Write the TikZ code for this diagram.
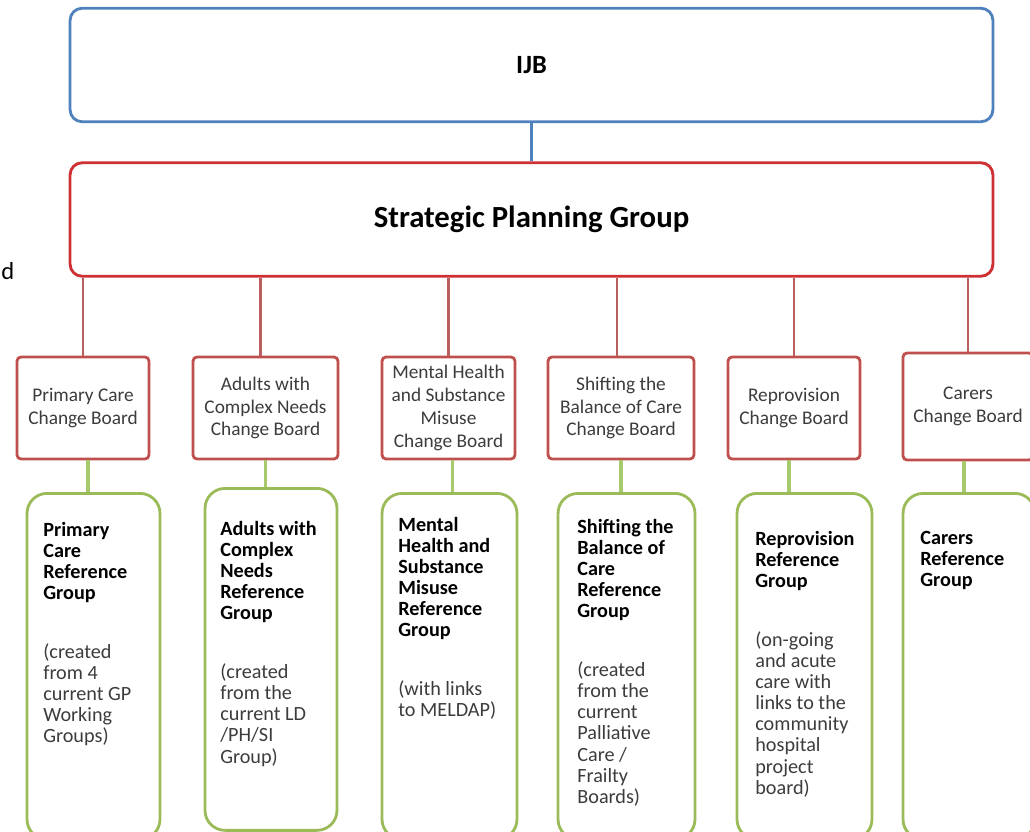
\documentclass[tikz,border=0pt]{standalone}
\usepackage{fontspec}
\setmainfont{Carlito}
\usetikzlibrary{positioning}
\definecolor{ijbblue}{RGB}{79,129,189}
\definecolor{spgred}{RGB}{206,48,52}
\definecolor{boardred}{RGB}{192,80,77}
\definecolor{linkred}{RGB}{185,95,95}
\definecolor{refgreen}{RGB}{155,187,89}
\definecolor{linkgreen}{RGB}{168,200,108}
\definecolor{textgrey}{RGB}{60,60,60}

\begin{document}
\begin{tikzpicture}[
  x=0.02cm, y=-0.02cm,
  topbox/.style={draw, line width=1.6pt, rounded corners=0.24cm, fill=white, minimum width=18.46cm, minimum height=2.27cm},
  board/.style={draw=boardred, line width=1.6pt, rounded corners=0.08cm, fill=white, minimum height=2.04cm, align=center, text=textgrey, inner sep=1pt, font=\fontsize{11}{13}\selectfont},
  refgroup/.style={draw=refgreen, line width=1.6pt, rounded corners=0.4cm, anchor=north},
  reftext/.style={anchor=north west, inner sep=0pt, align=left, font=\fontsize{11.5}{12}\selectfont},
  bluelink/.style={draw=ijbblue, line width=1.2pt},
  redlink/.style={draw=linkred, line width=1.5pt},
  greenlink/.style={draw=linkgreen, line width=2pt}
]
\useasboundingbox (0,0) rectangle (1030,831);
\clip (0,0) rectangle (1030,831);

% top of the structure
\node[topbox, draw=ijbblue, font=\bfseries\fontsize{15}{18}\selectfont] (ijb) at (531.5,65) {IJB};
\node[topbox, draw=spgred, font=\bfseries\fontsize{17.5}{20}\selectfont] (spg) at (531.5,219.5) {Strategic Planning Group};
\node[anchor=west, inner sep=0pt, font=\fontsize{14}{16}\selectfont] (cut) at (1,271) {d};

% change boards
\node[board, minimum width=2.64cm] (b1) at (83,408) {Primary Care\\Change Board};
\node[board, minimum width=2.90cm] (b2) at (265.5,408) {Adults with\\Complex Needs\\Change Board};
\node[board, minimum width=2.66cm] (b3) at (448.5,408) {Mental Health\\and Substance\\Misuse\\Change Board};
\node[board, minimum width=2.92cm] (b4) at (621,408) {Shifting the\\Balance of Care\\Change Board};
\node[board, minimum width=2.64cm] (b5) at (794,408) {Reprovision\\Change Board};
\node[board, minimum width=2.60cm, minimum height=2.14cm] (b6) at (968,406.5) {Carers\\Change Board};

% reference groups
\node[refgroup, minimum width=2.66cm, minimum height=6.92cm] (g1) at (93.5,492) {};
\node[refgroup, minimum width=2.64cm, minimum height=6.84cm] (g2) at (271,487) {};
\node[refgroup, minimum width=2.70cm, minimum height=6.92cm] (g3) at (449.5,492) {};
\node[refgroup, minimum width=2.74cm, minimum height=6.92cm] (g4) at (626.5,492) {};
\node[refgroup, minimum width=2.70cm, minimum height=6.92cm] (g5) at (804.5,492) {};
\node[refgroup, minimum width=2.64cm, minimum height=6.92cm] (g6) at (969,492) {};

\node[reftext] (t1) at (43,522) {\textbf{Primary}\\\textbf{Care}\\\textbf{Reference}\\\textbf{Group}\\[21.5pt]
  \color{textgrey}(created\\\color{textgrey}from 4\\\color{textgrey}current GP\\\color{textgrey}Working\\\color{textgrey}Groups)};
\node[reftext] (t2) at (220,521) {\textbf{Adults with}\\\textbf{Complex}\\\textbf{Needs}\\\textbf{Reference}\\\textbf{Group}\\[21.5pt]
  \color{textgrey}(created\\\color{textgrey}from the\\\color{textgrey}current LD\\\color{textgrey}/PH/SI\\\color{textgrey}Group)};
\node[reftext] (t3) at (398,517) {\textbf{Mental}\\\textbf{Health and}\\\textbf{Substance}\\\textbf{Misuse}\\\textbf{Reference}\\\textbf{Group}\\[21.5pt]
  \color{textgrey}(with links\\\color{textgrey}to MELDAP)};
\node[reftext] (t4) at (577,519) {\textbf{Shifting the}\\\textbf{Balance of}\\\textbf{Care}\\\textbf{Reference}\\\textbf{Group}\\[21.5pt]
  \color{textgrey}(created\\\color{textgrey}from the\\\color{textgrey}current\\\color{textgrey}Palliative\\\color{textgrey}Care /\\\color{textgrey}Frailty\\\color{textgrey}Boards)};
\node[reftext] (t5) at (755,531) {\textbf{Reprovision}\\\textbf{Reference}\\\textbf{Group}\\[21.5pt]
  \color{textgrey}(on-going\\\color{textgrey}and acute\\\color{textgrey}care with\\\color{textgrey}links to the\\\color{textgrey}community\\\color{textgrey}hospital\\\color{textgrey}project\\\color{textgrey}board)};
\node[reftext] (t6) at (920,531) {\textbf{Carers}\\\textbf{Reference}\\\textbf{Group}};

% connectors
\draw[bluelink] (ijb) -- (spg);
\draw[redlink] (b1.north) -- (b1.north |- spg.south);
\draw[redlink] ([xshift=-0.1cm]b2.north) -- ([xshift=-0.1cm]b2.north |- spg.south);
\draw[redlink] (b3.north) -- (b3.north |- spg.south);
\draw[redlink] ([xshift=-0.08cm]b4.north) -- ([xshift=-0.08cm]b4.north |- spg.south);
\draw[redlink] (b5.north) -- (b5.north |- spg.south);
\draw[redlink] (b6.north) -- (b6.north |- spg.south);
\draw[greenlink] ([xshift=0.1cm]b1.south) -- ([xshift=0.1cm]b1.south |- g1.north);
\draw[greenlink] (b2.south) -- (b2.south |- g2.north);
\draw[greenlink] ([xshift=0.08cm]b3.south) -- ([xshift=0.08cm]b3.south |- g3.north);
\draw[greenlink] (b4.south) -- (b4.south |- g4.north);
\draw[greenlink] ([xshift=-0.1cm]b5.south) -- ([xshift=-0.1cm]b5.south |- g5.north);
\draw[greenlink] ([xshift=-0.08cm]b6.south) -- ([xshift=-0.08cm]b6.south |- g6.north);
\end{tikzpicture}
\end{document}
